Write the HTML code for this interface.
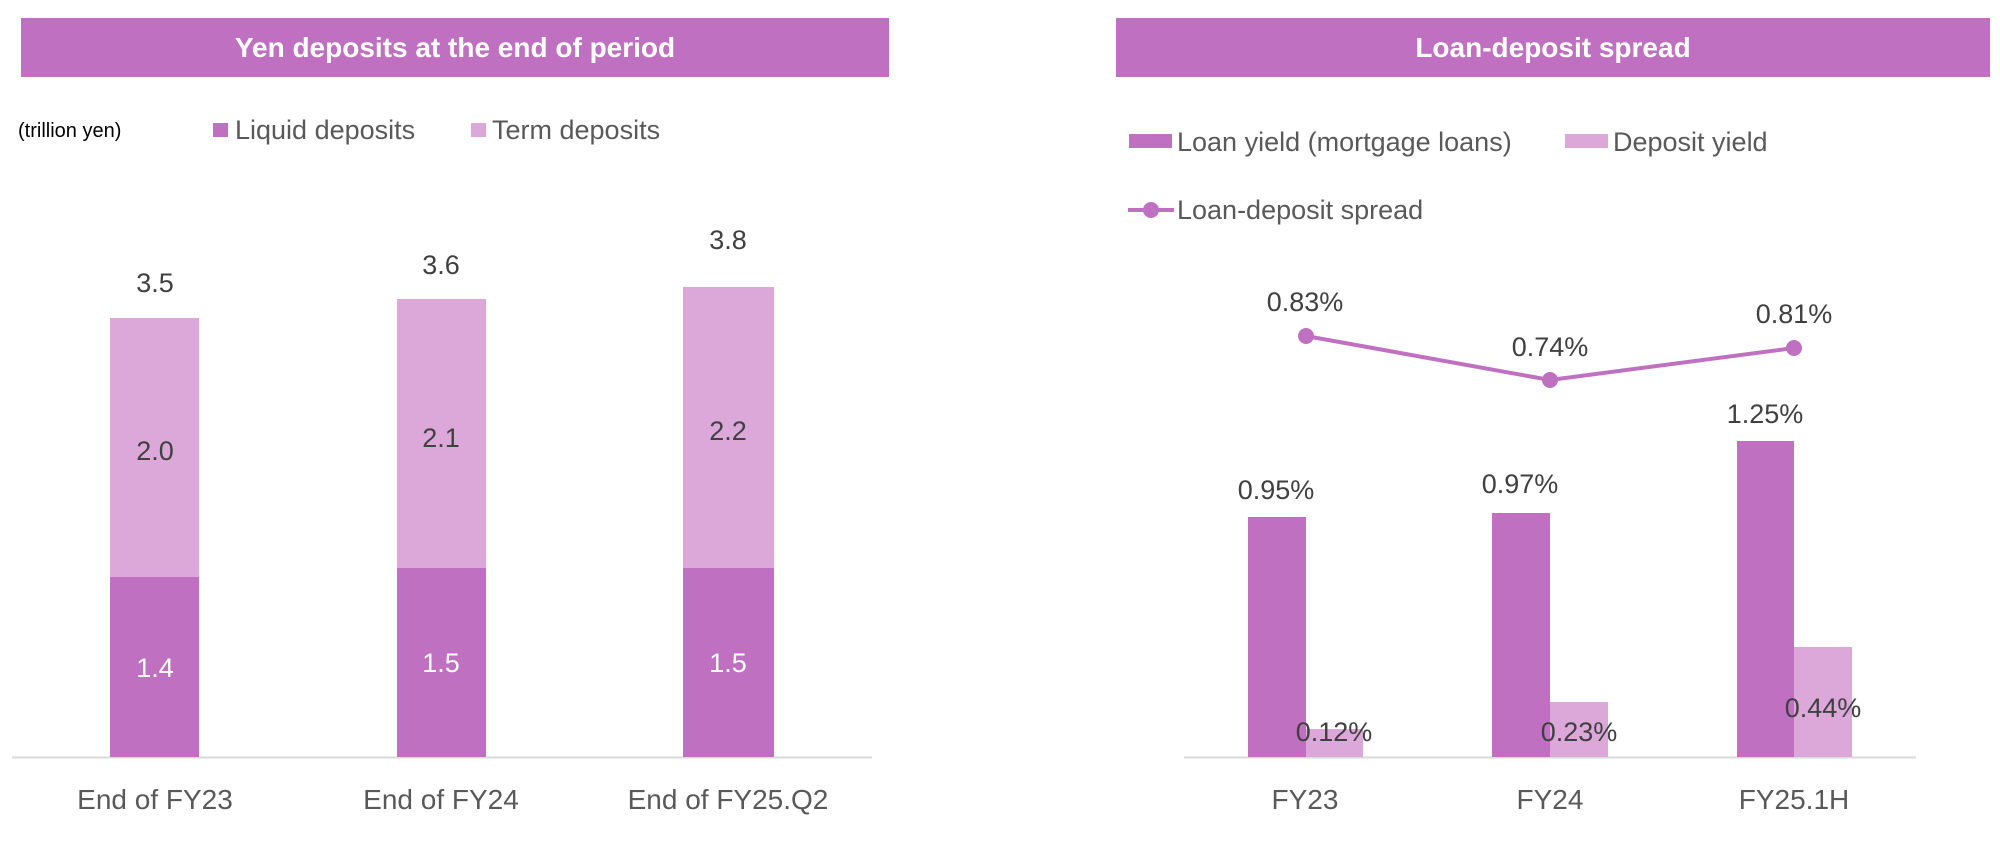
<!DOCTYPE html>
<html><head><meta charset="utf-8"><style>
html,body{margin:0;padding:0;background:#fff;overflow:hidden;}
svg{display:block;font-family:"Liberation Sans","DejaVu Sans",sans-serif;}
</style></head><body>
<svg width="2000" height="846" viewBox="0 0 2000 846" xmlns="http://www.w3.org/2000/svg">
<!-- Left chart -->
<rect x="21" y="18" width="868" height="59" fill="#C070C0"/>
<text x="455" y="57" text-anchor="middle" font-size="28" font-weight="bold" fill="#fff">Yen deposits at the end of period</text>
<text x="18" y="137" font-size="20" fill="#000">(trillion yen)</text>
<rect x="213" y="123" width="15" height="14" fill="#C070C0"/>
<text x="235" y="139" font-size="27" fill="#595959">Liquid deposits</text>
<rect x="471" y="123" width="15" height="14" fill="#DBA8D9"/>
<text x="492" y="139" font-size="27" fill="#595959">Term deposits</text>
<line x1="12" y1="757.5" x2="872" y2="757.5" stroke="#d9d9d9" stroke-width="2"/>
<rect x="110" y="577" width="89" height="180" fill="#C070C0"/>
<rect x="110" y="318" width="89" height="259" fill="#DBA8D9"/>
<rect x="397" y="568" width="89" height="189" fill="#C070C0"/>
<rect x="397" y="299" width="89" height="269" fill="#DBA8D9"/>
<rect x="683" y="568" width="91" height="189" fill="#C070C0"/>
<rect x="683" y="287" width="91" height="281" fill="#DBA8D9"/>
<g font-size="27" text-anchor="middle" fill="#404040">
<text x="155" y="292">3.5</text><text x="441" y="274">3.6</text><text x="728" y="249">3.8</text>
<text x="155" y="460">2.0</text><text x="441" y="447">2.1</text><text x="728" y="440">2.2</text>
<text x="155" y="677" fill="#fff">1.4</text><text x="441" y="672" fill="#fff">1.5</text><text x="728" y="672" fill="#fff">1.5</text>
</g>
<g font-size="28" text-anchor="middle" fill="#595959">
<text x="155" y="809">End of FY23</text><text x="441" y="809">End of FY24</text><text x="728" y="809">End of FY25.Q2</text>
</g>
<!-- Right chart -->
<rect x="1116" y="18" width="874" height="59" fill="#C070C0"/>
<text x="1553" y="57" text-anchor="middle" font-size="28" font-weight="bold" fill="#fff">Loan-deposit spread</text>
<rect x="1129" y="134" width="43" height="14" fill="#C070C0"/>
<text x="1177" y="151" font-size="27" fill="#595959">Loan yield (mortgage loans)</text>
<rect x="1565" y="134" width="43" height="14" fill="#DBA8D9"/>
<text x="1613" y="151" font-size="27" fill="#595959">Deposit yield</text>
<line x1="1128" y1="210" x2="1174" y2="210" stroke="#C070C0" stroke-width="4"/>
<circle cx="1151" cy="210" r="8" fill="#C070C0"/>
<text x="1177" y="219" font-size="27" fill="#595959">Loan-deposit spread</text>
<line x1="1184" y1="757.5" x2="1916" y2="757.5" stroke="#d9d9d9" stroke-width="2"/>
<rect x="1248" y="517" width="58" height="240" fill="#C070C0"/>
<rect x="1306" y="729" width="57" height="28" fill="#DBA8D9"/>
<rect x="1492" y="513" width="58" height="244" fill="#C070C0"/>
<rect x="1550" y="702" width="58" height="55" fill="#DBA8D9"/>
<rect x="1737" y="441" width="57" height="316" fill="#C070C0"/>
<rect x="1794" y="647" width="58" height="110" fill="#DBA8D9"/>
<polyline points="1306,336 1550,380 1794,348" fill="none" stroke="#C070C0" stroke-width="4"/>
<circle cx="1306" cy="336" r="8" fill="#C070C0"/><circle cx="1550" cy="380" r="8" fill="#C070C0"/><circle cx="1794" cy="348" r="8" fill="#C070C0"/>
<g font-size="27" text-anchor="middle" fill="#404040">
<text x="1305" y="311">0.83%</text><text x="1550" y="356">0.74%</text><text x="1794" y="323">0.81%</text>
<text x="1276" y="499">0.95%</text><text x="1520" y="493">0.97%</text><text x="1765" y="423">1.25%</text>
<text x="1334" y="741">0.12%</text><text x="1579" y="741">0.23%</text><text x="1823" y="717">0.44%</text>
</g>
<g font-size="28" text-anchor="middle" fill="#595959">
<text x="1305" y="809">FY23</text><text x="1550" y="809">FY24</text><text x="1794" y="809">FY25.1H</text>
</g>
</svg>
</body></html>
